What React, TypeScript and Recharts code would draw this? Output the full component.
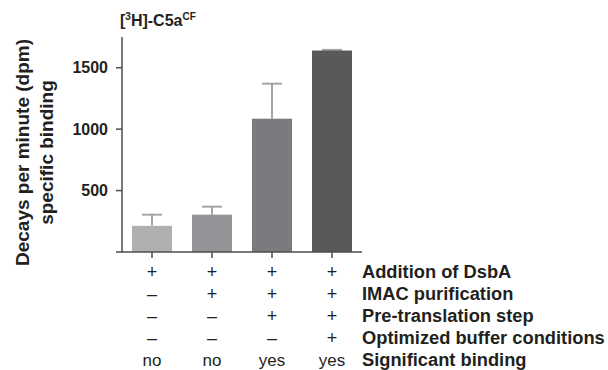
import { BarChart, Bar, Cell, XAxis, YAxis } from 'recharts'

const FONT = '"Liberation Sans", Arial, Helvetica, sans-serif'
const TEXT_COLOR = '#231f20'
const AXIS_COLOR = '#4d4d4f'
const ERR_COLOR = '#a3a4a6'
const BAR_COLORS = ['#aeafb1', '#939497', '#7a7b7e', '#58595b']

// data
const conditions = ['c1', 'c2', 'c3', 'c4']
const binding = [213, 304, 1085, 1640]
const bindingErr = [91, 65, 285, 5]
const yTicks = [0, 500, 1000, 1500]

const rowLabels = [
  'Addition of DsbA',
  'IMAC purification',
  'Pre-translation step',
  'Optimized buffer conditions',
  'Significant binding',
]
const dsba = ['+', '+', '+', '+']
const imac = ['–', '+', '+', '+']
const preTranslation = ['–', '–', '+', '+']
const optimizedBuffer = ['–', '–', '–', '+']
const significant = ['no', 'no', 'yes', 'yes']
const tableRows = [dsba, imac, preTranslation, optimizedBuffer, significant]

const chartData = conditions.map((c, i) => ({
  name: c,
  value: binding[i],
  err: bindingErr[i],
}))

const ROW_START = 19.5
const ROW_STEP = 22.2

function TableTick(props: { x?: number; y?: number; index?: number }) {
  const { x = 0, y = 0, index = 0 } = props
  return (
    <g fontFamily={FONT} fill={TEXT_COLOR}>
      {tableRows.map((row, r) => (
        <text key={r} x={x} y={y + ROW_START + r * ROW_STEP} textAnchor="middle"
          fontSize={r === 4 ? 17 : 18}>
          {row[index]}
        </text>
      ))}
      {index === conditions.length - 1 && rowLabels.map((l, r) => (
        <text key={'l' + r} x={x + 30} y={y + ROW_START + r * ROW_STEP} textAnchor="start"
          fontSize={18.3} fontWeight="bold">
          {l}
        </text>
      ))}
    </g>
  )
}

function BarWithError(props: any) {
  const { x, y, width, height, fill, payload } = props
  const scale = payload.value ? height / payload.value : 0
  const top = y - payload.err * scale
  const cx = x + width / 2
  return (
    <g>
      <line x1={cx} x2={cx} y1={y} y2={top} stroke={ERR_COLOR} strokeWidth={2} />
      <line x1={cx - 10} x2={cx + 10} y1={top} y2={top} stroke={ERR_COLOR} strokeWidth={2} />
      <rect x={x} y={y} width={width} height={height} fill={fill} />
    </g>
  )
}

function YLabel(props: any) {
  const vb = props.viewBox || {}
  const cy = (vb.y ?? 37) + (vb.height ?? 215) / 2 + 8
  return (
    <text transform={`rotate(-90, 0, ${cy})`} x={0} y={cy} textAnchor="middle"
      fontFamily={FONT} fontWeight="bold" fontSize={19} fill={TEXT_COLOR}>
      <tspan x={0} dy={29}>Decays per minute (dpm)</tspan>
      <tspan x={0} dy={23.5}>specific binding</tspan>
    </text>
  )
}

export default function App() {
  return (
    <div style={{ position: 'absolute', left: 0, top: 0, width: 608, height: 370, background: '#fff' }}>
      <div style={{
        position: 'absolute', left: 120, top: 11, fontFamily: FONT, fontWeight: 'bold',
        fontSize: 16, color: TEXT_COLOR, whiteSpace: 'nowrap',
      }}>
        [<sup style={{ fontSize: 10 }}>3</sup>H]-C5a<sup style={{ fontSize: 10 }}>CF</sup>
      </div>
      <BarChart width={608} height={370} data={chartData}
        margin={{ top: 37, right: 246, left: 0, bottom: 0 }}
        barCategoryGap={10}>
        <XAxis dataKey="name" height={118} interval={0}
          axisLine={{ stroke: AXIS_COLOR, strokeWidth: 1.5 }}
          tickLine={{ stroke: AXIS_COLOR, strokeWidth: 1.5 }}
          tickSize={6} tickMargin={0}
          tick={(p: any) => <TableTick {...p} />} />
        <YAxis width={122} domain={[0, 1750]} ticks={yTicks} interval={0}
          allowDataOverflow
          axisLine={{ stroke: AXIS_COLOR, strokeWidth: 1.5 }}
          tickLine={{ stroke: AXIS_COLOR, strokeWidth: 1.5 }}
          tickSize={6} tickMargin={8}
          tickFormatter={(v: number) => (v === 0 ? '' : String(v))}
          tick={{ fill: TEXT_COLOR, fontSize: 16, fontWeight: 'bold', fontFamily: FONT }}
          label={(p: any) => <YLabel {...p} />} />
        <Bar dataKey="value" barSize={40} isAnimationActive={false} shape={(p: any) => <BarWithError {...p} />}>
          {chartData.map((d, i) => (
            <Cell key={d.name} fill={BAR_COLORS[i]} />
          ))}
        </Bar>
      </BarChart>
    </div>
  )
}
